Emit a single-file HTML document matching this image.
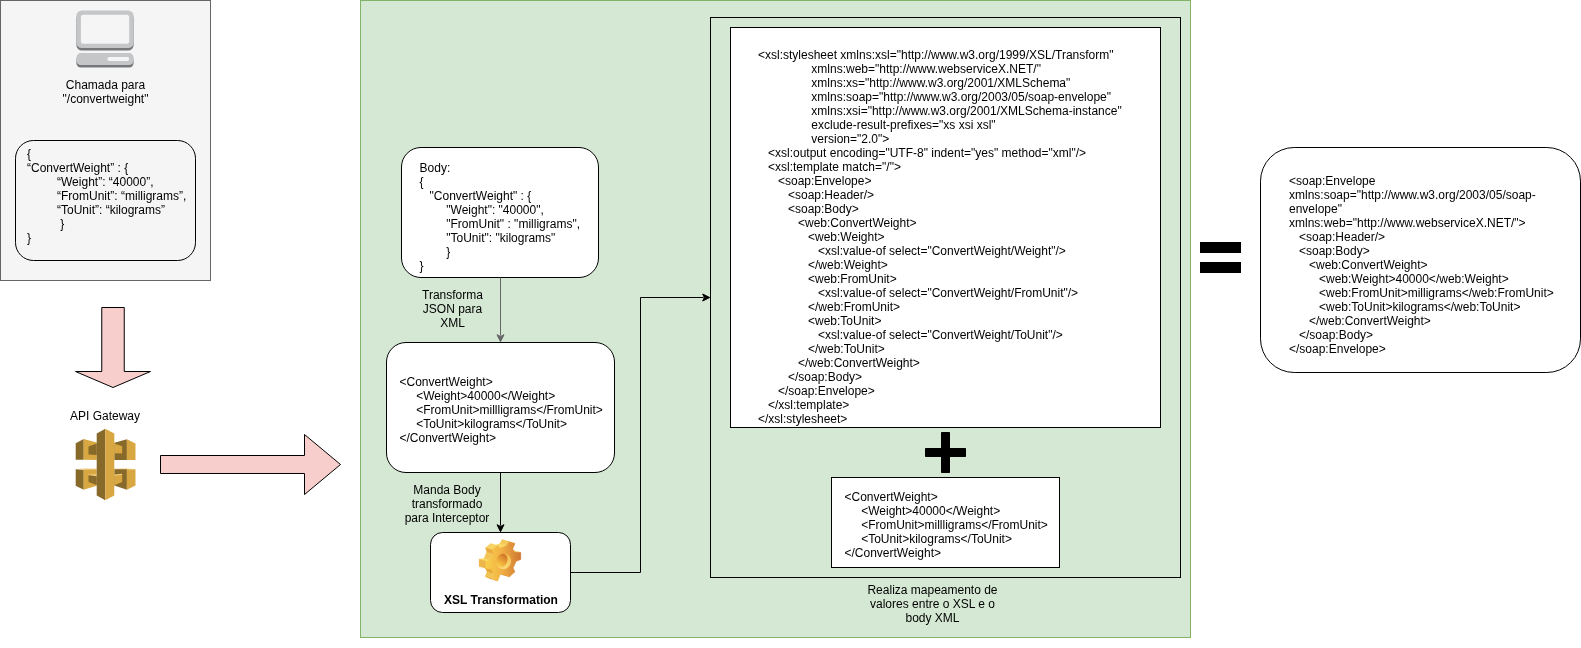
<!DOCTYPE html>
<html><head><meta charset="utf-8">
<style>
html,body{margin:0;padding:0;background:#fff;}
body{width:1581px;height:648px;position:relative;overflow:hidden;font-family:"Liberation Sans",sans-serif;font-size:12px;line-height:14px;color:#000;}
svg.bg{position:absolute;left:0;top:0;}
.t{position:absolute;white-space:pre;font-size:12px;line-height:14px;}
.c{text-align:center;}
</style></head><body>
<svg class="bg" width="1581" height="648" viewBox="0 0 1581 648">
<!-- left gray box -->
<rect x="0.5" y="0.5" width="210" height="280" fill="#f5f5f5" stroke="#666666"/>
<rect x="15.5" y="140.5" width="180" height="120" rx="18" ry="18" fill="#f5f5f5" stroke="#000"/>
<!-- computer icon -->
<g id="pc">
<rect x="76.4" y="13" width="57.2" height="37.6" rx="5.5" fill="#77787b"/>
<rect x="76.4" y="10.4" width="57.2" height="37.6" rx="5.5" fill="#c5c6c8"/>
<rect x="80.9" y="14.8" width="48.3" height="29" rx="2.5" fill="#f5f5f5"/>
<rect x="76.4" y="55.6" width="57.2" height="12" rx="4.5" fill="#77787b"/>
<rect x="76.4" y="53.1" width="57.2" height="12" rx="4.5" fill="#c5c6c8"/>
<rect x="107.4" y="57" width="21.8" height="4" rx="2" fill="#f5f5f5"/>
</g>
<!-- down arrow -->
<path d="M101.75 307.5 H124.25 V371.5 H150.5 L113 387.5 L75.5 371.5 H101.75 Z" fill="#f8cecc" stroke="#000"/>
<!-- right arrow -->
<path d="M160.5 455.5 H304.5 V434.5 L340.5 464.5 L304.5 494.5 V473.5 H160.5 Z" fill="#f8cecc" stroke="#000"/>
<!-- green box -->
<rect x="360.5" y="0.5" width="830" height="637" fill="#d5e8d4" stroke="#82b366"/>
<rect x="401.5" y="147.5" width="197" height="130" rx="19.5" fill="#fff" stroke="#000"/>
<rect x="386.5" y="342.5" width="228" height="130" rx="19.5" fill="#fff" stroke="#000"/>
<rect x="430.5" y="532.5" width="140" height="80" rx="12" fill="#fff" stroke="#000"/>
<!-- arrows -->
<path d="M500.5 277.5 V335.6" stroke="#666" fill="none"/>
<path d="M500.5 341.68 L497 334.68 L500.5 336.43 L504 334.68 Z" fill="#666" stroke="#666" stroke-miterlimit="10"/>
<path d="M500.5 472.5 V525.6" stroke="#000" fill="none"/>
<path d="M500.5 531.68 L497 524.68 L500.5 526.43 L504 524.68 Z" fill="#000" stroke="#000" stroke-miterlimit="10"/>
<path d="M570.5 572.5 H640.5 V297.5 H703.6" stroke="#000" fill="none"/>
<path d="M709.68 297.5 L702.68 294 L704.43 297.5 L702.68 301 Z" fill="#000" stroke="#000" stroke-miterlimit="10"/>
<!-- xsl panel -->
<rect x="710.5" y="17.5" width="470" height="560" fill="none" stroke="#000"/>
<rect x="730.5" y="27.5" width="430" height="400" fill="#fff" stroke="#000"/>
<rect x="831.5" y="477.5" width="228" height="90" fill="#fff" stroke="#000"/>
<!-- plus -->
<rect x="925" y="448" width="41" height="9" rx="0.7" fill="#000"/>
<rect x="941" y="432" width="9" height="41" rx="0.7" fill="#000"/>
<!-- equals -->
<rect x="1200" y="242" width="41" height="11" fill="#000"/>
<rect x="1200" y="262" width="41" height="11" fill="#000"/>
<g id="aws">
<!-- top highlights of lower blocks -->
<polygon points="75.7,469.3 83.7,468.2 96.7,468.6 96.7,470 83.7,470" fill="#f3dca6"/>
<polygon points="135.5,469.3 126.9,468.2 114.3,468.6 114.3,470 126.9,470" fill="#f3dca6"/>
<!-- upper-left block -->
<polygon points="75.7,443.3 83.7,439.1 83.7,459.8 75.7,459.8" fill="#876929"/>
<polygon points="83.7,439.1 96.7,442.6 96.7,459.9 83.7,459.8" fill="#d9a741"/>
<polygon points="88.5,446.4 96.7,443.5 96.7,455 88.5,454.5" fill="#876929"/>
<!-- upper-right block -->
<polygon points="114.3,442.7 126.9,439.3 126.9,460 114.3,460" fill="#876929"/>
<polygon points="114.3,443.5 122.2,446.3 122.2,453.4 114.3,453.2" fill="#d9a741"/>
<polygon points="126.9,439.3 135.5,443.6 135.5,459.9 126.9,460" fill="#d9a741"/>
<!-- lower-left block -->
<polygon points="75.7,469.3 83.7,470 83.7,489.8 75.7,485.8" fill="#876929"/>
<polygon points="83.7,469.6 96.7,469.6 96.7,485.8 83.7,489.8" fill="#d9a741"/>
<polygon points="88.5,474.6 96.7,474.3 96.7,476.3 88.5,475.3" fill="#f0cf85"/>
<polygon points="88.5,475.3 96.7,476.3 96.7,485 88.5,482.1" fill="#876929"/>
<!-- lower-right block -->
<polygon points="114.3,469.3 126.9,469.3 126.9,489.8 114.3,485.5" fill="#876929"/>
<polygon points="114.3,475.3 122.2,474.3 122.2,482.1 114.3,485.3" fill="#d9a741"/>
<polygon points="114.3,474.6 122.2,473.8 122.2,474.8 114.3,475.8" fill="#f0cf85"/>
<polygon points="126.9,469.6 135.5,469.3 135.5,485.5 126.9,489.8" fill="#d9a741"/>
<!-- pillar -->
<polygon points="96.7,433.4 105.3,428.7 105.3,500.2 96.7,495.6" fill="#876929"/>
<polygon points="105.3,428.7 114.3,433.4 114.3,495.6 105.3,500.2" fill="#d9a741"/>
</g>

<g id="gear"><defs><linearGradient id="gf" gradientUnits="userSpaceOnUse" x1="486" y1="560" x2="521" y2="560"><stop offset="0" stop-color="#f9cf4a"/><stop offset="0.45" stop-color="#f0b044"/><stop offset="1" stop-color="#cf7530"/></linearGradient><linearGradient id="gr" gradientUnits="userSpaceOnUse" x1="498" y1="555" x2="509" y2="568"><stop offset="0" stop-color="#e9a83c"/><stop offset="0.5" stop-color="#f3c558"/><stop offset="1" stop-color="#fbdd7c"/></linearGradient><linearGradient id="gh" gradientUnits="userSpaceOnUse" x1="503.5" y1="554" x2="499.5" y2="567"><stop offset="0" stop-color="#cf6f2a"/><stop offset="0.55" stop-color="#eaa636"/><stop offset="1" stop-color="#fbd04a"/></linearGradient></defs>
<path d="M485.50 547.90 L490.90 543.40 L493.50 546.20 L500.10 543.60 L502.10 539.60 L508.20 541.40 L505.90 546.90 L507.80 550.10 L514.00 550.50 L514.00 557.60 L509.40 559.20 L506.30 566.00 L508.20 569.70 L502.50 574.90 L498.90 572.10 L493.30 572.70 L490.90 578.90 L485.30 576.50 L487.10 571.50 L484.70 567.00 L479.20 566.60 L479.20 559.20 L484.10 558.40 L486.90 551.70 Z" fill="#f1b840"/>
<path d="M514.60 552.10 L520.80 552.50 L514.00 550.50 L507.80 550.10 Z" fill="#fbdc6a" stroke="#fbdc6a" stroke-width="0.3"/>
<path d="M509.30 576.90 L505.70 574.10 L498.90 572.10 L502.50 574.90 Z" fill="#e39a33" stroke="#e39a33" stroke-width="0.3"/>
<path d="M506.90 545.60 L508.90 541.60 L502.10 539.60 L500.10 543.60 Z" fill="#f4c859" stroke="#f4c859" stroke-width="0.3"/>
<path d="M497.70 580.90 L492.10 578.50 L485.30 576.50 L490.90 578.90 Z" fill="#e1952f" stroke="#e1952f" stroke-width="0.3"/>
<path d="M500.30 548.20 L506.90 545.60 L500.10 543.60 L493.50 546.20 Z" fill="#fad968" stroke="#fad968" stroke-width="0.3"/>
<path d="M492.10 578.50 L493.90 573.50 L487.10 571.50 L485.30 576.50 Z" fill="#f2c456" stroke="#f2c456" stroke-width="0.3"/>
<path d="M493.90 573.50 L491.50 569.00 L484.70 567.00 L487.10 571.50 Z" fill="#e7a63c" stroke="#e7a63c" stroke-width="0.3"/>
<path d="M490.90 560.40 L493.70 553.70 L486.90 551.70 L484.10 558.40 Z" fill="#f3c557" stroke="#f3c557" stroke-width="0.3"/>
<path d="M492.30 549.90 L497.70 545.40 L490.90 543.40 L485.50 547.90 Z" fill="#f8d363" stroke="#f8d363" stroke-width="0.3"/>
<path d="M493.70 553.70 L492.30 549.90 L485.50 547.90 L486.90 551.70 Z" fill="#e9aa40" stroke="#e9aa40" stroke-width="0.3"/>
<path d="M486.00 561.20 L490.90 560.40 L484.10 558.40 L479.20 559.20 Z" fill="#fbdc6a" stroke="#fbdc6a" stroke-width="0.3"/>
<path d="M486.00 568.60 L486.00 561.20 L479.20 559.20 L479.20 566.60 Z" fill="#eeb74b" stroke="#eeb74b" stroke-width="0.3"/>
<path d="M492.30 549.90 L497.70 545.40 L500.30 548.20 L506.90 545.60 L508.90 541.60 L515.00 543.40 L512.70 548.90 L514.60 552.10 L520.80 552.50 L520.80 559.60 L516.20 561.20 L513.10 568.00 L515.00 571.70 L509.30 576.90 L505.70 574.10 L500.10 574.70 L497.70 580.90 L492.10 578.50 L493.90 573.50 L491.50 569.00 L486.00 568.60 L486.00 561.20 L490.90 560.40 L493.70 553.70 Z" fill="url(#gf)" stroke="url(#gf)" stroke-width="0.5" stroke-linejoin="round"/>
<ellipse cx="503.7" cy="561.3" rx="7.2" ry="8.1" transform="rotate(18 503.7 561.3)" fill="url(#gr)"/>
<ellipse cx="502.0" cy="560.3" rx="5.3" ry="6.7" transform="rotate(18 502 560.3)" fill="url(#gh)"/></g>
<!-- result -->
<rect x="1260.5" y="147.5" width="320" height="225" rx="33.75" fill="#fff" stroke="#000"/>
</svg>
<div id="txt" style="position:absolute;left:0;top:0;width:1581px;height:648px;will-change:transform;">
<div class="t c" style="left:35.5px;top:78px;width:140px;">Chamada para
"/convertweight"</div>
<div class="t" style="left:27px;top:147px;">{
“ConvertWeight” : {
         “Weight”: “40000”,
         “FromUnit”: “milligrams”,
         “ToUnit”: “kilograms”
          }
}</div>
<div class="t c" style="left:55px;top:409px;width:100px;">API Gateway</div>

<div class="t" style="left:419.6px;top:161px;">Body:
{
   "ConvertWeight" : {
        "Weight": "40000",
        "FromUnit" : "milligrams",
        "ToUnit": "kilograms"
        }
}</div>
<div class="t c" style="left:412.5px;top:288px;width:80px;">Transforma
JSON para
XML</div>
<div class="t" style="left:399.5px;top:375px;">&lt;ConvertWeight&gt;
     &lt;Weight&gt;40000&lt;/Weight&gt;
     &lt;FromUnit&gt;millligrams&lt;/FromUnit&gt;
     &lt;ToUnit&gt;kilograms&lt;/ToUnit&gt;
&lt;/ConvertWeight&gt;</div>
<div class="t c" style="left:397px;top:483px;width:100px;">Manda Body
transformado
para Interceptor</div>
<div class="t c" style="left:430.5px;top:593px;width:141px;font-weight:bold;">XSL Transformation</div>

<div class="t" style="left:758px;top:48px;">&lt;xsl:stylesheet xmlns:xsl="http://www.w3.org/1999/XSL/Transform"
                xmlns:web="http://www.webserviceX.NET/"
                xmlns:xs="http://www.w3.org/2001/XMLSchema"
                xmlns:soap="http://www.w3.org/2003/05/soap-envelope"
                xmlns:xsi="http://www.w3.org/2001/XMLSchema-instance"
                exclude-result-prefixes="xs xsi xsl"
                version="2.0"&gt;
   &lt;xsl:output encoding="UTF-8" indent="yes" method="xml"/&gt;
   &lt;xsl:template match="/"&gt;
      &lt;soap:Envelope&gt;
         &lt;soap:Header/&gt;
         &lt;soap:Body&gt;
            &lt;web:ConvertWeight&gt;
               &lt;web:Weight&gt;
                  &lt;xsl:value-of select="ConvertWeight/Weight"/&gt;
               &lt;/web:Weight&gt;
               &lt;web:FromUnit&gt;
                  &lt;xsl:value-of select="ConvertWeight/FromUnit"/&gt;
               &lt;/web:FromUnit&gt;
               &lt;web:ToUnit&gt;
                  &lt;xsl:value-of select="ConvertWeight/ToUnit"/&gt;
               &lt;/web:ToUnit&gt;
            &lt;/web:ConvertWeight&gt;
         &lt;/soap:Body&gt;
      &lt;/soap:Envelope&gt;
   &lt;/xsl:template&gt;
&lt;/xsl:stylesheet&gt;</div>

<div class="t" style="left:844.5px;top:490px;">&lt;ConvertWeight&gt;
     &lt;Weight&gt;40000&lt;/Weight&gt;
     &lt;FromUnit&gt;millligrams&lt;/FromUnit&gt;
     &lt;ToUnit&gt;kilograms&lt;/ToUnit&gt;
&lt;/ConvertWeight&gt;</div>
<div class="t c" style="left:852.5px;top:583px;width:160px;">Realiza mapeamento de
valores entre o XSL e o
body XML</div>

<div class="t" style="left:1289px;top:174px;">&lt;soap:Envelope
xmlns:soap="http://www.w3.org/2003/05/soap-
envelope"
xmlns:web="http://www.webserviceX.NET/"&gt;
   &lt;soap:Header/&gt;
   &lt;soap:Body&gt;
      &lt;web:ConvertWeight&gt;
         &lt;web:Weight&gt;40000&lt;/web:Weight&gt;
         &lt;web:FromUnit&gt;milligrams&lt;/web:FromUnit&gt;
         &lt;web:ToUnit&gt;kilograms&lt;/web:ToUnit&gt;
      &lt;/web:ConvertWeight&gt;
   &lt;/soap:Body&gt;
&lt;/soap:Envelope&gt;</div>
</div>
</body></html>
